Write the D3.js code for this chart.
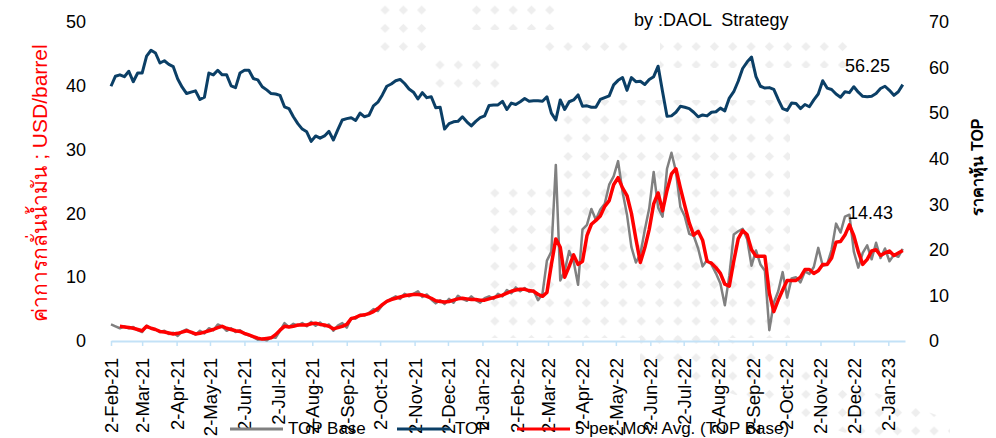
<!DOCTYPE html>
<html>
<head>
<meta charset="utf-8">
<script src="https://cdn.jsdelivr.net/npm/d3@7"></script>
<style>
  body { margin: 0; background: #fff; }
  svg { display: block; font-family: "Liberation Sans", Arial, sans-serif; }
</style>
</head>
<body>
<main></main>
<script>
// series are read every 4 days starting 2 Feb 2021
const startDate = "2021-02-02";
const stepDays = 4;

// TOP share price (right axis)
const topPrice = [
  55.9,58.1,58.4,58.0,59.2,56.9,58.8,58.8,62.5,63.8,
  63.2,61.0,61.5,60.7,60.2,57.5,55.7,54.3,54.6,54.9,
  53.0,53.5,58.8,58.4,59.4,58.4,58.4,56.0,55.6,58.8,
  59.4,59.4,57.6,57.3,55.8,55.1,54.3,54.2,53.9,51.4,
  51.0,49.2,47.7,46.5,45.9,43.8,45.0,44.5,45.0,46.0,
  44.1,46.4,48.5,48.8,49.0,48.4,50.0,49.2,49.5,51.6,
  52.4,54.0,55.9,56.4,57.1,57.4,56.5,55.3,54.6,53.1,
  54.5,53.4,53.6,51.2,51.3,46.5,47.7,48.1,48.2,49.2,
  48.1,47.2,48.2,49.0,49.4,51.7,51.8,51.8,52.6,50.8,
  52.2,51.9,52.5,53.2,52.6,52.7,52.7,52.6,53.6,50.0,
  48.5,52.9,50.8,52.5,52.9,54.0,51.5,51.6,51.3,51.3,
  53.0,53.4,53.8,56.2,57.2,57.8,55.0,57.8,56.9,57.0,
  56.3,57.4,58.0,60.3,54.7,49.3,49.4,50.2,51.5,51.3,
  51.0,50.2,49.2,49.6,49.4,50.2,50.3,51.1,50.5,53.3,
  54.7,57.0,59.8,61.2,62.3,58.0,55.9,55.5,55.6,55.2,
  53.0,51.0,50.6,52.2,52.1,51.0,51.9,51.4,52.9,54.2,
  57.1,55.5,55.2,54.2,53.5,54.7,54.5,55.8,54.6,53.7,
  53.6,53.7,54.3,55.4,55.9,55.0,53.9,54.7,56.25
];

// TOP base refining margin, USD/barrel (left axis)
const topBase = [
  2.6,2.3,2.0,2.3,2.0,2.2,1.7,1.4,2.4,2.0,
  1.8,1.4,1.6,1.1,1.3,0.8,1.5,1.8,1.3,1.0,
  1.6,1.2,2.0,1.7,2.6,2.3,1.6,2.0,1.4,1.7,
  1.1,0.9,0.6,0.2,0.3,0.1,0.6,0.5,1.6,2.8,
  2.2,2.7,2.4,2.8,2.3,3.0,2.4,2.9,2.3,2.6,
  1.6,2.4,2.8,2.1,3.6,3.5,4.1,4.0,4.4,5.0,
  4.7,5.6,6.2,6.6,7.0,6.6,7.4,7.0,7.4,7.8,
  6.9,7.3,6.5,5.9,6.4,5.8,6.6,6.0,7.1,6.6,
  6.3,7.0,6.4,6.0,6.7,7.0,6.6,7.4,7.0,8.0,
  7.5,8.4,7.8,8.3,7.7,7.9,6.4,7.4,12.6,14.0,
  27.6,9.5,11.0,14.1,12.5,8.8,17.5,18.2,20.7,19.0,
  20.6,21.5,24.5,25.8,28.2,23.4,19.8,14.7,12.3,13.6,
  17.4,20.8,26.5,20.9,19.5,27.0,29.5,26.6,21.0,19.5,
  16.8,16.5,14.5,11.7,12.7,12.0,10.6,9.0,5.6,10.2,
  16.7,17.2,17.6,16.0,11.8,14.2,12.0,11.0,1.7,6.0,
  7.8,10.8,6.8,9.8,10.0,9.2,10.9,10.5,11.6,14.6,
  11.8,12.0,14.3,18.4,17.0,19.5,19.8,14.0,11.5,13.8,
  15.0,12.8,15.4,13.0,14.5,12.5,13.5,13.2,14.43
];

// 5 per. moving average of TOP base, as drawn
const topBaseMA = [
  null,null,2.3,2.2,2.1,2.0,1.8,1.6,2.3,2.0,
  1.8,1.5,1.4,1.25,1.1,1.2,1.4,1.6,1.4,1.1,
  1.2,1.4,1.6,1.8,2.1,2.3,2.0,1.8,1.6,1.5,
  1.2,0.95,0.7,0.45,0.3,0.4,0.5,1.0,1.7,2.3,
  2.2,2.3,2.5,2.5,2.5,2.7,2.8,2.6,2.5,2.3,
  1.9,2.1,2.3,2.6,3.5,3.7,4.0,4.1,4.3,4.6,
  5.1,5.7,6.2,6.5,6.7,6.9,7.1,7.2,7.3,7.3,
  7.2,7.0,6.7,6.3,6.2,6.1,6.2,6.4,6.6,6.7,
  6.6,6.5,6.5,6.4,6.4,6.6,6.8,7.0,7.2,7.5,
  7.8,8.0,8.1,8.1,7.9,7.8,7.3,7.0,7.6,12.0,
  16.0,14.7,10.0,11.7,13.5,12.0,12.5,16.5,18.3,18.9,
  19.6,21.1,22.0,24.5,25.6,24.0,22.8,20.0,16.0,12.3,
  14.6,17.5,21.5,23.2,20.4,23.6,26.2,27.0,24.0,21.2,
  18.5,16.6,17.2,15.8,12.5,12.2,11.5,10.6,8.9,8.6,
  12.5,16.0,17.3,16.7,14.3,13.3,13.3,13.3,7.5,4.6,
  6.4,8.0,9.5,9.5,9.5,10.0,11.2,11.2,10.6,11.0,
  12.0,12.0,13.0,15.5,15.6,16.6,18.2,16.5,14.0,12.0,
  12.8,14.1,14.3,13.4,13.8,14.1,13.4,13.8,14.2
];

const leftTicks = [0, 10, 20, 30, 40, 50];
const rightTicks = [0, 10, 20, 30, 40, 50, 60, 70];
const leftTitle = "ค่าการกลั่นน้ำมัน ; USD/barrel";
const rightTitle = "ราคาหุ้น TOP";
const sourceNote = "by :DAOL  Strategy";
const legendItems = [
  { name: "TOP Base", color: "#808080" },
  { name: "TOP", color: "#0b3f66" },
  { name: "5 per. Mov. Avg. (TOP Base)", color: "#ff0000" }
];

const width = 996, height = 438;
const parse = d3.timeParse("%Y-%m-%d");
const t0 = parse(startDate);
const dateAt = i => d3.timeDay.offset(t0, i * stepDays);

const svg = d3.select("main").append("svg")
    .attr("width", width).attr("height", height);

// faint diamond watermark behind the plot
const defs = svg.append("defs");
const pat = defs.append("pattern")
    .attr("id", "wm")
    .attr("patternUnits", "userSpaceOnUse")
    .attr("width", 18.3).attr("height", 18.3)
    .attr("patternTransform", "translate(375.9,0.9)");
pat.append("path")
    .attr("d", "M9.15,4.5 L13.8,9.15 L9.15,13.8 L4.5,9.15 Z")
    .attr("fill", "#eeeeee");
const wmAreas = [
  [[376,0],[432,0],[432,52],[376,52]],
  [[432,55],[505,55],[505,90],[432,90]],
  [[465,0],[560,0],[560,30],[465,30]],
  [[540,36],[630,36],[630,52],[540,52]],
  [[660,36],[850,36],[850,68],[660,68]],
  [[560,100],[790,100],[790,338],[560,338]],
  [[490,185],[560,185],[560,338],[490,338]],
  [[640,336],[720,336],[950,420],[950,438],[860,438],[640,362]]
];
svg.append("g").selectAll("path")
  .data(wmAreas)
  .join("path")
    .attr("d", d => "M" + d.join("L") + "Z")
    .attr("fill", "url(#wm)");

const x = d3.scaleTime()
    .domain([parse("2021-02-02"), parse("2023-01-17")])
    .range([111, 905]);
const yLeft = d3.scaleLinear().domain([0, 50]).range([341, 22]);
const yRight = d3.scaleLinear().domain([0, 70]).range([341, 22]);

// x axis
const monthTicks = d3.timeMonth.range(parse("2021-02-01"), parse("2023-01-02"))
    .map(d => d3.timeDay.offset(d, 1));
const xAxis = svg.append("g")
    .attr("transform", "translate(0,341)")
    .call(d3.axisBottom(x).tickValues(monthTicks)
        .tickFormat(d3.timeFormat("%-d-%b-%y")).tickSizeInner(5).tickSizeOuter(0));
xAxis.select(".domain").attr("stroke", "#c3e2f7").attr("stroke-width", 2);
xAxis.selectAll(".tick line").attr("stroke", "#c3e2f7").attr("stroke-width", 1.5);
xAxis.selectAll(".tick text")
    .attr("transform", "rotate(-90)")
    .attr("text-anchor", "end")
    .attr("x", -17).attr("y", 0).attr("dy", "0.35em")
    .attr("font-size", 18.5)
    .attr("font-family", "Liberation Sans, Arial, sans-serif")
    .attr("fill", "#000");

// y axes (labels only)
const gl = svg.append("g")
    .attr("transform", "translate(86,0)")
    .call(d3.axisLeft(yLeft).tickValues(leftTicks).tickSize(0).tickPadding(0));
const gr = svg.append("g")
    .attr("transform", "translate(929,0)")
    .call(d3.axisRight(yRight).tickValues(rightTicks).tickSize(0).tickPadding(0));
[gl, gr].forEach(g => {
  g.select(".domain").remove();
  g.selectAll("text")
    .attr("font-size", 18)
    .attr("font-family", "Liberation Sans, Arial, sans-serif")
    .attr("fill", "#000");
});

// series
const line = (yScale) => d3.line()
    .defined(d => d != null)
    .x((d, i) => x(dateAt(i)))
    .y(d => yScale(d));

svg.append("path")
    .datum(topBase)
    .attr("fill", "none")
    .attr("stroke", legendItems[0].color)
    .attr("stroke-width", 2.5)
    .attr("stroke-linejoin", "round")
    .attr("d", line(yLeft));

svg.append("path")
    .datum(topBaseMA)
    .attr("fill", "none")
    .attr("stroke", legendItems[2].color)
    .attr("stroke-width", 3.5)
    .attr("stroke-linejoin", "round")
    .attr("d", line(yLeft));

svg.append("path")
    .datum(topPrice)
    .attr("fill", "none")
    .attr("stroke", legendItems[1].color)
    .attr("stroke-width", 3)
    .attr("stroke-linejoin", "round")
    .attr("d", line(yRight));

// last value labels
svg.append("text")
    .attr("x", 845).attr("y", 72)
    .attr("font-size", 18)
    .text(topPrice[topPrice.length - 1].toFixed(2));
svg.append("text")
    .attr("x", 848).attr("y", 219)
    .attr("font-size", 18)
    .text(topBase[topBase.length - 1].toFixed(2));

svg.append("text")
    .attr("x", 634).attr("y", 26)
    .attr("font-size", 18)
    .style("white-space", "pre")
    .text(sourceNote);

// axis titles
svg.append("text")
    .attr("transform", "translate(47,183) rotate(-90)")
    .attr("text-anchor", "middle")
    .attr("font-size", 21)
    .attr("fill", "#ff0000")
    .text(leftTitle);
svg.append("text")
    .attr("transform", "translate(983,167) rotate(-90)")
    .attr("text-anchor", "middle")
    .attr("font-size", 16)
    .attr("font-weight", "bold")
    .text(rightTitle);

// legend (sits over the bottom of the tick labels, as in the source)
const legendX = [230, 397, 517];
const lg = svg.append("g").selectAll("g")
  .data(legendItems)
  .join("g")
    .attr("transform", (d, i) => `translate(${legendX[i]},429)`);
lg.append("line")
    .attr("x1", 0).attr("x2", 53)
    .attr("stroke", d => d.color)
    .attr("stroke-width", 3);
lg.append("text")
    .attr("x", 58).attr("y", 5)
    .attr("font-size", 17)
    .text(d => d.name);
</script>
</body>
</html>
